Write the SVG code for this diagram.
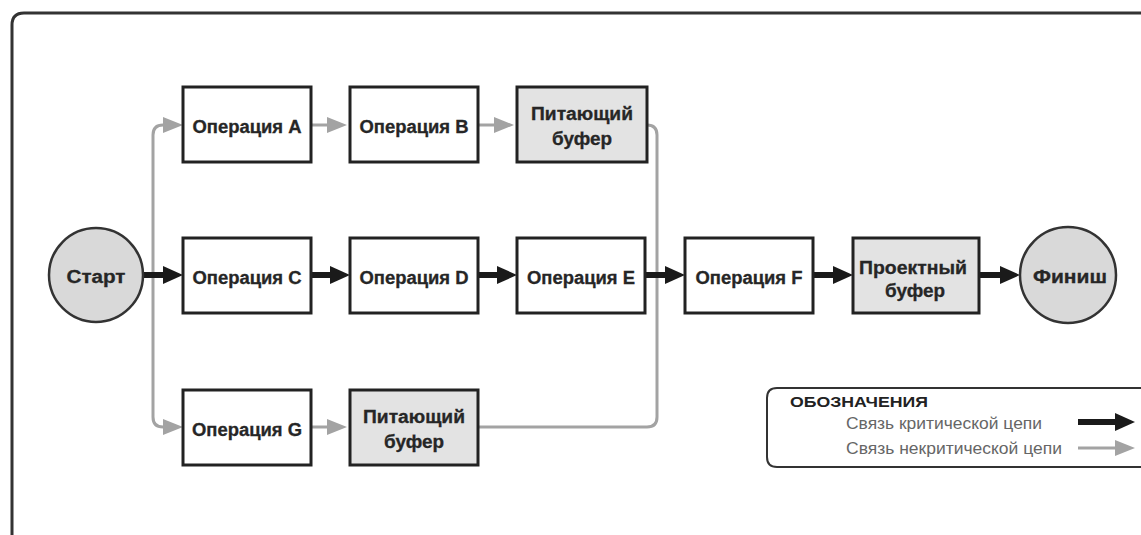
<svg xmlns="http://www.w3.org/2000/svg" width="1141" height="535" viewBox="0 0 1141 535">
<style>
.box{fill:#fff;stroke:#222;stroke-width:3}
.buf{fill:#e3e3e3;stroke:#222;stroke-width:3}
.circ{fill:#d9d9d9;stroke:#333;stroke-width:2.5}
.t{font-family:"Liberation Sans",Arial,sans-serif;font-weight:bold;font-size:18px;fill:#262626;text-anchor:middle;stroke:#262626;stroke-width:0.3}
.crit{stroke:#1a1a1a;stroke-width:6;fill:none}
.nc{stroke:#a3a3a3;stroke-width:3;fill:none}
.lg{font-family:"Liberation Sans",Arial,sans-serif;font-size:17px;fill:#666}
</style>
<defs>
<marker id="ab" markerUnits="userSpaceOnUse" markerWidth="20" markerHeight="18" refX="3" refY="9" orient="auto">
<path d="M0,0 L20,9 L0,18 z" fill="#1a1a1a"/>
</marker>
<marker id="ag" markerUnits="userSpaceOnUse" markerWidth="20" markerHeight="16" refX="3" refY="8" orient="auto">
<path d="M0,0 L20,8 L0,16 z" fill="#a3a3a3"/>
</marker>
</defs>
<rect width="1141" height="535" fill="#fff"/>
<path d="M12,540 V25 Q12,13 24,13 H1150" fill="none" stroke="#333" stroke-width="3"/>

<g id="connectors">
<path class="nc" d="M153,275 V135 Q153,125 163,125 H166" marker-end="url(#ag)"/>
<path class="nc" d="M153,275 V417 Q153,427 163,427 H166" marker-end="url(#ag)"/>
<line class="nc" x1="311" y1="125" x2="330" y2="125" marker-end="url(#ag)"/>
<line class="nc" x1="478" y1="125" x2="497" y2="125" marker-end="url(#ag)"/>
<line class="nc" x1="311" y1="427" x2="330" y2="427" marker-end="url(#ag)"/>
<path class="nc" d="M647,125 Q657,125 657,135 V275"/>
<path class="nc" d="M478,427 H647 Q657,427 657,417 V275"/>
<line class="crit" x1="143" y1="275" x2="166" y2="275" marker-end="url(#ab)"/>
<line class="crit" x1="311" y1="275" x2="333" y2="275" marker-end="url(#ab)"/>
<line class="crit" x1="478" y1="275" x2="500" y2="275" marker-end="url(#ab)"/>
<line class="crit" x1="645" y1="275" x2="668" y2="275" marker-end="url(#ab)"/>
<line class="crit" x1="813" y1="275" x2="836" y2="275" marker-end="url(#ab)"/>
<line class="crit" x1="979" y1="275" x2="1003" y2="275" marker-end="url(#ab)"/>
</g>

<g id="start"><circle class="circ" cx="96" cy="275" r="47"/><text class="t" x="96" y="283" textLength="59" lengthAdjust="spacingAndGlyphs">Старт</text></g>
<g id="opA"><rect class="box" x="183" y="87" width="128" height="75"/><text class="t" x="247" y="133" textLength="109" lengthAdjust="spacingAndGlyphs">Операция A</text></g>
<g id="opB"><rect class="box" x="350" y="87" width="128" height="75"/><text class="t" x="414" y="133" textLength="109" lengthAdjust="spacingAndGlyphs">Операция B</text></g>
<g id="buf1"><rect class="buf" x="517" y="87" width="130" height="75"/><text class="t" x="582" y="120" textLength="102" lengthAdjust="spacingAndGlyphs">Питающий</text><text class="t" x="582" y="145" textLength="60" lengthAdjust="spacingAndGlyphs">буфер</text></g>
<g id="opC"><rect class="box" x="183" y="238" width="128" height="75"/><text class="t" x="247" y="284" textLength="109" lengthAdjust="spacingAndGlyphs">Операция C</text></g>
<g id="opD"><rect class="box" x="350" y="238" width="128" height="75"/><text class="t" x="414" y="284" textLength="109" lengthAdjust="spacingAndGlyphs">Операция D</text></g>
<g id="opE"><rect class="box" x="517" y="238" width="128" height="75"/><text class="t" x="581" y="284" textLength="108" lengthAdjust="spacingAndGlyphs">Операция E</text></g>
<g id="opF"><rect class="box" x="685" y="238" width="128" height="75"/><text class="t" x="749" y="284" textLength="107" lengthAdjust="spacingAndGlyphs">Операция F</text></g>
<g id="projbuf"><rect class="buf" x="853" y="238" width="126" height="75"/><text class="t" x="913" y="274" textLength="108" lengthAdjust="spacingAndGlyphs">Проектный</text><text class="t" x="915" y="297" textLength="60" lengthAdjust="spacingAndGlyphs">буфер</text></g>
<g id="finish"><circle class="circ" cx="1068" cy="275" r="48"/><text class="t" x="1070" y="283" textLength="74" lengthAdjust="spacingAndGlyphs">Финиш</text></g>
<g id="opG"><rect class="box" x="183" y="390" width="128" height="75"/><text class="t" x="247" y="436" textLength="110" lengthAdjust="spacingAndGlyphs">Операция G</text></g>
<g id="buf2"><rect class="buf" x="350" y="390" width="128" height="75"/><text class="t" x="414" y="423" textLength="102" lengthAdjust="spacingAndGlyphs">Питающий</text><text class="t" x="414" y="448" textLength="60" lengthAdjust="spacingAndGlyphs">буфер</text></g>

<g id="legend">
<path d="M1150,388 H777 Q767,388 767,398 V457 Q767,467 777,467 H1150" fill="#fff" stroke="#333" stroke-width="2"/>
<text x="790" y="407" font-family="Liberation Sans,Arial,sans-serif" font-weight="bold" font-size="15" fill="#222" textLength="138" lengthAdjust="spacingAndGlyphs">ОБОЗНАЧЕНИЯ</text>
<text class="lg" x="846" y="429" textLength="196" lengthAdjust="spacingAndGlyphs">Связь критической цепи</text>
<text class="lg" x="846" y="454" textLength="216" lengthAdjust="spacingAndGlyphs">Связь некритической цепи</text>
<line class="crit" x1="1078" y1="422" x2="1118" y2="422" marker-end="url(#ab)"/>
<line class="nc" x1="1078" y1="448" x2="1118" y2="448" marker-end="url(#ag)"/>
</g>
</svg>
